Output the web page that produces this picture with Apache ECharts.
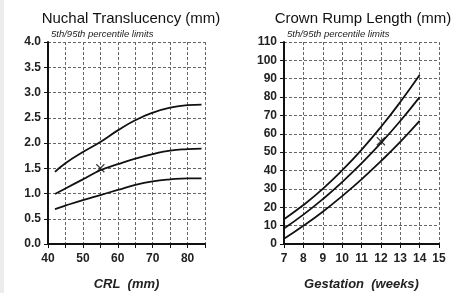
<!DOCTYPE html>
<html>
<head>
<meta charset="utf-8">
<script src="https://cdn.jsdelivr.net/npm/echarts@6/dist/echarts.min.js"></script>
<style>
  html, body { margin: 0; padding: 0; background: #fff; }
  #strip { position: absolute; left: 0; top: 0; width: 4px; height: 293px; background: #ececec; }
  #main { width: 454px; height: 293px; }
</style>
</head>
<body>
<div id="strip"></div>
<div id="main"></div>
<script>
// nuchal translucency vs CRL
var ntCrl = [42, 45, 50, 55, 60, 65, 70, 75, 80, 84];
var nt95 = [1.43, 1.6, 1.82, 2.02, 2.25, 2.45, 2.6, 2.7, 2.75, 2.76];
var nt50 = [0.99, 1.1, 1.28, 1.46, 1.58, 1.69, 1.78, 1.85, 1.88, 1.89];
var nt5 = [0.69, 0.76, 0.87, 0.97, 1.07, 1.17, 1.24, 1.28, 1.3, 1.3];
var ntPoint = [55, 1.5];

// crown rump length vs gestation
var gaWeeks = [7, 8, 9, 10, 11, 12, 13, 14];
var crl95 = [13.5, 21.2, 30.0, 40.1, 51.3, 63.7, 77.3, 92];
var crl50 = [8.5, 16.0, 24.4, 33.7, 43.9, 55.0, 67.0, 80];
var crl5 = [2.8, 9.9, 17.6, 26.1, 35.2, 45.1, 55.6, 67];
var crlPoint = [12, 56];

var titles = ['Nuchal Translucency (mm)', 'Crown Rump Length (mm)'];
var xNames = ['CRL  (mm)', 'Gestation  (weeks)'];
var noteText = '5th/95th percentile limits';

function pairs(xs, ys) {
  var out = [];
  for (var i = 0; i < xs.length; i++) {
    out.push([xs[i], ys[i]]);
  }
  return out;
}

var cross = 'path://M0,1L1,0L5,4L9,0L10,1L6,5L10,9L9,10L5,6L1,10L0,9L4,5Z';
var font = 'Liberation Sans';

function xAxisOpt(idx, min, max, step, showLabel) {
  return {
    type: 'value', gridIndex: idx, min: min, max: max, interval: step,
    name: xNames[idx], nameLocation: 'middle', nameGap: 34,
    nameTextStyle: { fontFamily: font, fontSize: 13, fontStyle: 'italic', fontWeight: 'bold', color: '#222' },
    axisLine: { lineStyle: { color: '#111', width: 2 } },
    axisTick: { length: 4, lineStyle: { color: '#111' } },
    axisLabel: { fontFamily: font, fontSize: 12, fontWeight: 'bold', color: '#222', margin: 9, formatter: showLabel },
    splitLine: { lineStyle: { color: '#666', type: [3, 2], width: 1 } }
  };
}

function yAxisOpt(idx, max, step, fmt) {
  return {
    type: 'value', gridIndex: idx, min: 0, max: max, interval: step,
    axisLine: { show: true, lineStyle: { color: '#111', width: 2 } },
    axisTick: { show: true, length: 4, lineStyle: { color: '#111' } },
    axisLabel: { fontFamily: font, fontSize: 12, fontWeight: 'bold', color: '#222', margin: 7, formatter: fmt },
    splitLine: { lineStyle: { color: '#666', type: [3, 2], width: 1 } }
  };
}

function curve(idx, xs, ys) {
  return {
    type: 'line', xAxisIndex: idx, yAxisIndex: idx, data: pairs(xs, ys),
    smooth: true, showSymbol: false, silent: true,
    lineStyle: { color: '#111', width: 1.8 }
  };
}

var chart = echarts.init(document.getElementById('main'));
chart.setOption({
  animation: false,
  title: [
    { text: titles[0], left: 126, top: 6, textAlign: 'center',
      textStyle: { fontFamily: font, fontSize: 15, fontWeight: 'normal', color: '#111' } },
    { text: titles[1], left: 358, top: 6, textAlign: 'center',
      textStyle: { fontFamily: font, fontSize: 15, fontWeight: 'normal', color: '#111' } }
  ],
  graphic: [
    { type: 'text', left: 51, top: 29, style: { text: noteText, font: 'italic 9.5px ' + font, fill: '#222' } },
    { type: 'text', left: 287, top: 29, style: { text: noteText, font: 'italic 9.5px ' + font, fill: '#222' } }
  ],
  grid: [
    { left: 48, width: 157, top: 42, height: 202, outerBoundsMode: 'none' },
    { left: 284, width: 155, top: 42, height: 202, outerBoundsMode: 'none' }
  ],
  xAxis: [
    xAxisOpt(0, 40, 85, 5, function (v) { return v % 10 === 0 ? String(v) : ''; }),
    xAxisOpt(1, 7, 15, 1, function (v) { return String(v); })
  ],
  yAxis: [
    yAxisOpt(0, 4, 0.5, function (v) { return v.toFixed(1); }),
    yAxisOpt(1, 110, 10, function (v) { return String(v); })
  ],
  series: [
    curve(0, ntCrl, nt95),
    curve(0, ntCrl, nt50),
    curve(0, ntCrl, nt5),
    { type: 'scatter', xAxisIndex: 0, yAxisIndex: 0, data: [ntPoint],
      symbol: cross, symbolSize: 9, itemStyle: { color: '#111' } },
    curve(1, gaWeeks, crl95),
    curve(1, gaWeeks, crl50),
    curve(1, gaWeeks, crl5),
    { type: 'scatter', xAxisIndex: 1, yAxisIndex: 1, data: [crlPoint],
      symbol: cross, symbolSize: 9, itemStyle: { color: '#111' } }
  ]
});
</script>
</body>
</html>
